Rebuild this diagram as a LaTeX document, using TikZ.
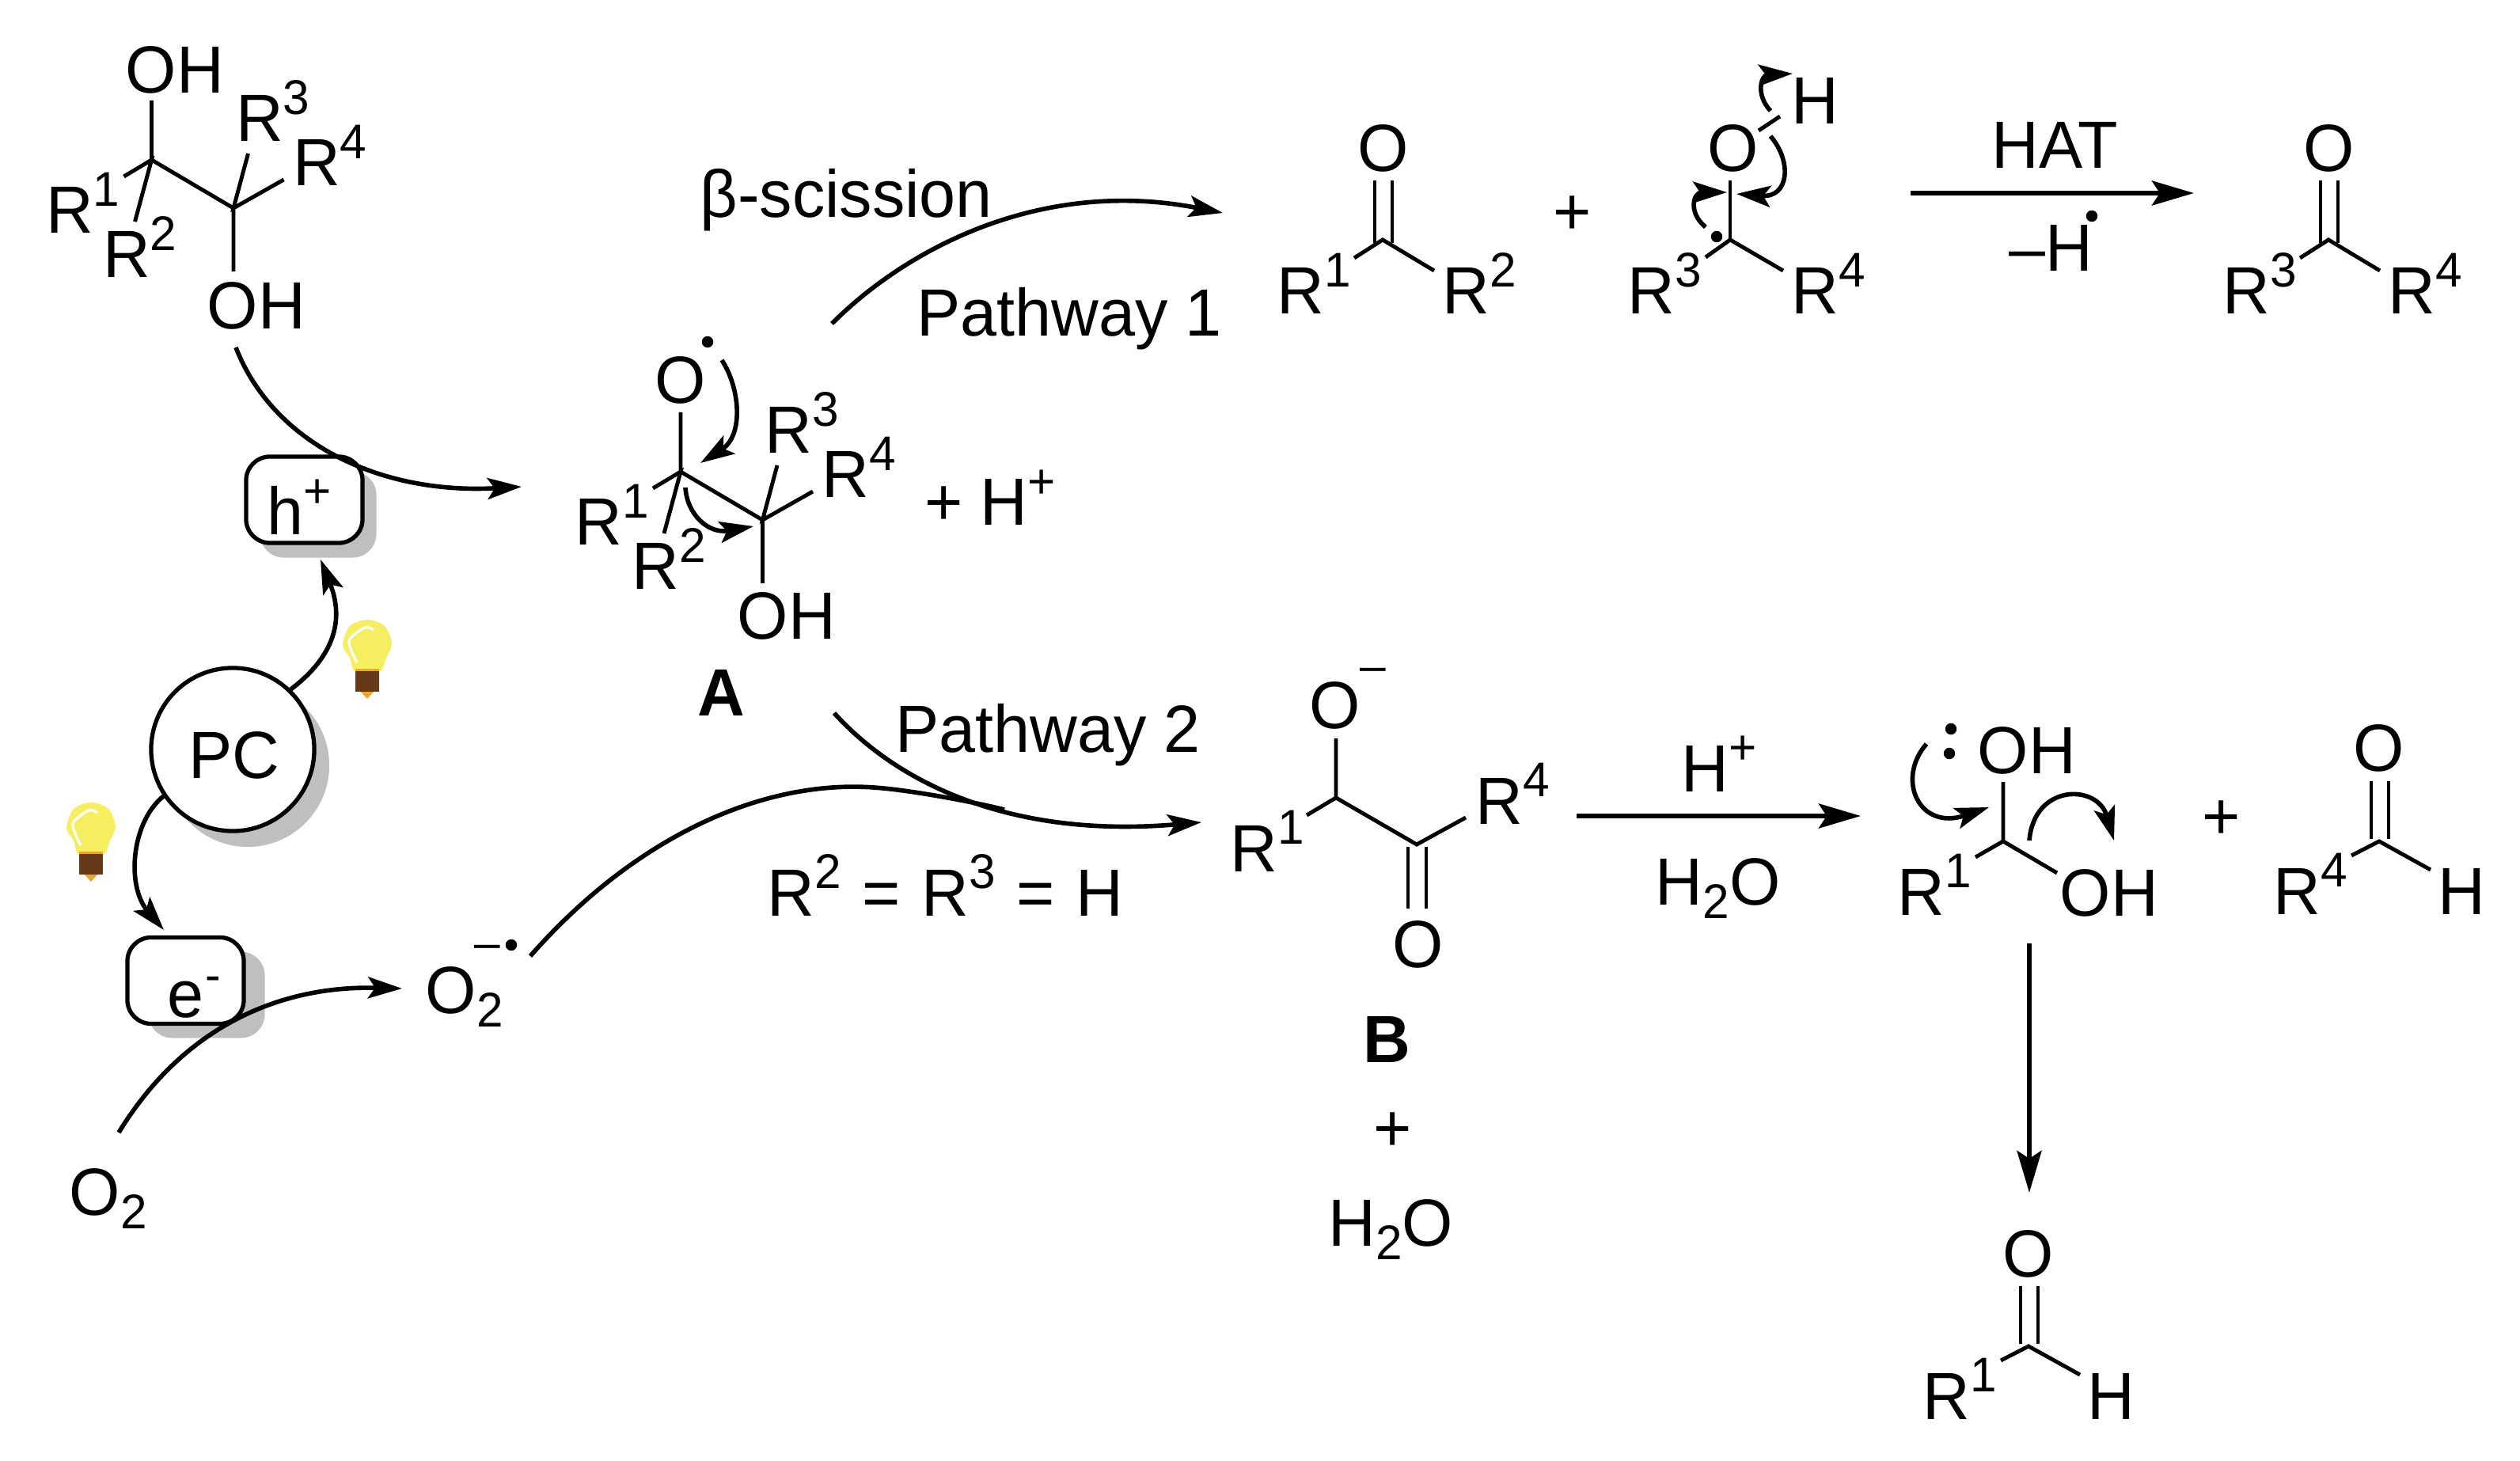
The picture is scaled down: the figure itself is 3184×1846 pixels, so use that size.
\documentclass[tikz,border=0pt]{standalone}
\usepackage{fontspec}
\setmainfont[FakeStretch=0.98]{Liberation Sans}
\usetikzlibrary{arrows.meta}
\usetikzlibrary{positioning}
\definecolor{shdgray}{HTML}{BFBFBF}
\definecolor{bulbyel}{HTML}{F5EE60}
\definecolor{bulbbrn}{HTML}{65391A}
\definecolor{bulborg}{HTML}{E5A830}
\newcommand{\sups}[1]{\raisebox{9.7pt}{\fontsize{17.5}{17.5}\selectfont #1}}
\newcommand{\subs}[1]{\raisebox{-5pt}{\fontsize{17.5}{17.5}\selectfont #1}}
\tikzstyle{txt}=[anchor=base west,inner sep=0pt,font=\fontsize{24}{28}\selectfont\spaceskip 6.2pt\relax]
\tikzstyle{sup}=[txt,font=\fontsize{17}{17}\selectfont]
\tikzstyle{pnt}=[draw,circle,fill,inner sep=0pt,minimum size=0.13cm]
\tikzstyle{bnd}=[line width=1.4pt]
\tikzstyle{arr}=[line width=1.6pt,-{Stealth[length=0.43cm,width=0.27cm,inset=0.09cm]}]
\tikzstyle{arrb}=[line width=1.7pt,-{Stealth[length=0.53cm,width=0.31cm,inset=0.10cm]}]
\tikzstyle{slab}=[draw,line width=1.5pt,rounded corners=0.3cm,fill=white,inner sep=0pt,minimum width=1.47cm,minimum height=1.09cm]
\tikzstyle{shdslab}=[slab,draw=none,fill=shdgray]
\tikzset{
	pics/vic/.style={code={
		\coordinate (ca) at (0,0);
		\coordinate (cb) at (103.5,61);
		\coordinate (top) at (0,-75);
		\coordinate (bot) at (103.5,141);
		\coordinate (ra) at (-35,21);
		\coordinate (rb) at (-21,78);
		\coordinate (rc) at (122,-8);
		\coordinate (rd) at (167,25);
		\draw[bnd] (top) -- (ca) -- (cb) -- (bot);
		\draw[bnd] (ra) -- (ca) -- (rb);
		\draw[bnd] (rc) -- (cb) -- (rd);
		\node[txt] at (-134,93)(r1){R\sups{1}};
		\node[txt] at (-62,149)(r2){R\sups{2}};
		\node[txt] at (106,-23)(r3){R\sups{3}};
		\node[txt] at (178,33)(r4){R\sups{4}};
	}},
	pics/carb/.style 2 args={code={
		\coordinate (c) at (0,0);
		\coordinate (ul) at (-10,-75);
		\coordinate (dl) at (-10,4);
		\coordinate (ur) at (12,-75);
		\coordinate (dr) at (12,4);
		\coordinate (ra) at (-36,23);
		\coordinate (rb) at (65,39);
		\draw[bnd] (ul) -- (dl);
		\draw[bnd] (ur) -- (dr);
		\draw[bnd] (ra) -- (c) -- (rb);
		\node[txt] at (-32,-86)(o){O};
		\node[txt] at (-134,94)(r1){R\sups{#1}};
		\node[txt] at (75,94)(r2){R\sups{#2}};
	}},
	pics/ald/.style={code={
		\coordinate (c) at (0,0);
		\coordinate (ul) at (-10,-76);
		\coordinate (dl) at (-10,-3);
		\coordinate (ur) at (12,-76);
		\coordinate (dr) at (12,-3);
		\coordinate (ra) at (-35,18);
		\coordinate (rb) at (65,36);
		\draw[bnd] (ul) -- (dl);
		\draw[bnd] (ur) -- (dr);
		\draw[bnd] (ra) -- (c) -- (rb);
		\node[txt] at (-33,-88)(o){O};
		\node[txt] at (-134,92)(r1){R\sups{#1}};
		\node[txt] at (74,92)(h){H};
	}},
	pics/bulb/.style={code={
		\fill[bulborg] (-11,88) -- (11,88) -- (0,100) -- cycle;
		\fill[bulbyel] plot[smooth cycle] coordinates {(0,0) (22,8) (31,30) (24,48) (15,66) (-15,66) (-22,48) (-31,32) (-22,8)};
		\draw[white,line width=0.9pt] plot[smooth] coordinates {(-13,54) (-23,27) (-3,10) (8,13)};
		\fill[bulborg] (-15,62) rectangle (15,66);
		\fill[bulbbrn] (-15,65) rectangle (15,91);
	}}
}

\begin{document}
\begin{tikzpicture}[x=0.01cm,y=-0.01cm]
	\useasboundingbox (0,0) rectangle (3184,1846);

	% starting diol and radical A
	\pic (diol) at (191.5,202) {vic};
	\node[txt] at (158,118)(dioloh){OH};
	\node[txt] at (261,416)(diolohb){OH};
	\pic (mola) at (860,596) {vic};
	\node[txt] at (827,510)(molao){O};
	\node[pnt] at (894,432)(molad){};
	\node[txt] at (931,808)(molaoh){OH};
	\node[txt] at (1168,664)(molah){+ H\sups{+}};
	\node[txt,font=\fontsize{24}{28}\selectfont\bfseries] at (881,905)(lbla){A};
	\coordinate (aotail) at (912,455);
	\coordinate (aotip) at (885,585);
	\coordinate (abtail) at (866,616);
	\coordinate (abtip) at (952,665);
	\draw[arr] (aotail) .. controls (935,490) and (940,550) .. (aotip);
	\draw[arr] (abtail) .. controls (868,650) and (895,675) .. (abtip);

	% photocatalyst cycle
	\node[shdslab] at (402,650)(hpshd){};
	\node[slab] at (384.5,631.5)(hp){};
	\node[txt] at (337,676)(hptxt){h\sups{+}};
	\node[shdslab] at (261,1257)(emshd){};
	\node[slab] at (234.5,1239)(em){};
	\node[txt] at (211,1285)(emtxt){e};
	\node[sup] at (259,1252)(emmin){-};
	\node[circle,fill=shdgray,inner sep=0pt,minimum size=2.06cm] at (313,967)(pcshd){};
	\node[circle,draw,fill=white,line width=1.5pt,inner sep=0pt,minimum size=2.06cm] at (294,947)(pc){};
	\node[txt] at (238,983)(pctxt){PC};
	\pic (bulba) at (464,783) {bulb};
	\pic (bulbb) at (115,1014) {bulb};
	\node[txt] at (87,1535)(ox){O\subs{2}};
	\node[txt] at (537,1280)(oxr){O\subs{2}};
	\node[sup] at (599,1211)(oxrmin){--};
	\node[pnt] at (646,1194)(oxrd){};

	\coordinate (dtail) at (298,439);
	\coordinate (dtip) at (659,615);
	\coordinate (hptip) at (405,707);
	\coordinate (emtip) at (207,1175);
	\coordinate (oxtail) at (150,1431);
	\coordinate (oxtip) at (508,1249);
	\draw[arr] (dtail) .. controls (345,560) and (480,625) .. (dtip);
	\draw[arr] (pc.46) .. controls (415,835) and (438,790) .. (hptip);
	\draw[arr] (pc.214) .. controls (165,1040) and (160,1120) .. (emtip);
	\draw[arr] (oxtail) .. controls (230,1300) and (350,1245) .. (oxtip);

	% pathway 1
	\node[txt] at (884,275)(bsc){β-scission};
	\node[txt] at (1158,425)(pw1){Pathway 1};
	\coordinate (pw1tail) at (1051,409);
	\coordinate (pw1tip) at (1545,269);
	\draw[arr] (pw1tail) .. controls (1150,310) and (1320,225) .. (pw1tip);
	\pic (keta) at (1747,303) {carb={1}{2}};
	\node[txt] at (1962,297)(plusa){+};

	\coordinate (rc) at (2186,303);
	\coordinate (rco) at (2186,228);
	\coordinate (rcl) at (2155,325);
	\coordinate (rcr) at (2253,342);
	\coordinate (roa) at (2222,165);
	\coordinate (rob) at (2249,147);
	\draw[bnd] (rco) -- (rc);
	\draw[bnd] (rcl) -- (rc) -- (rcr);
	\draw[bnd] (roa) -- (rob);
	\node[txt] at (2157,217)(ro){O};
	\node[txt] at (2263,157)(rh){H};
	\node[txt] at (2056,397)(rr3){R\sups{3}};
	\node[txt] at (2263,397)(rr4){R\sups{4}};
	\node[pnt] at (2169,299)(rd){};
	\coordinate (roarr) at (2237,172);
	\coordinate (roatip) at (2194,245);
	\coordinate (rhar) at (2237,140);
	\coordinate (rhatip) at (2265,93);
	\coordinate (rcar) at (2155,287);
	\coordinate (rcatip) at (2182,243);
	\draw[arr] (roarr) .. controls (2265,205) and (2260,250) .. (roatip);
	\draw[arr] (rhar) .. controls (2218,120) and (2225,95) .. (rhatip);
	\draw[arr] (rcar) .. controls (2132,268) and (2140,243) .. (rcatip);

	\coordinate (hata) at (2414,244);
	\coordinate (hatb) at (2772,244);
	\draw[arrb] (hata) -- (hatb);
	\node[txt] at (2516,213)(hat){HAT};
	\node[txt] at (2538,343)(hatm){--H};
	\node[pnt] at (2643,273)(hatd){};
	\pic (ketb) at (2942,303) {carb={3}{4}};

	% pathway 2
	\node[txt] at (1131,950)(pw2){Pathway 2};
	\node[txt] at (969,1157)(cond){\spaceskip 7.6pt\relax R\sups{2} = R\sups{3} = H};
	\coordinate (pw2tail) at (1054,901);
	\coordinate (pw2tip) at (1518,1039);
	\coordinate (oxrtail) at (670,1208);
	\coordinate (oxrtop) at (1104,995);
	\coordinate (oxrjoin) at (1269,1023);
	\draw[arr] (pw2tail) .. controls (1130,985) and (1270,1060) .. (pw2tip);
	\draw[line width=1.6pt] (oxrtail) .. controls (800,1060) and (960,985) .. (oxrtop) .. controls (1149,998) and (1229,1013) .. (oxrjoin);

	\coordinate (bca) at (1688,1008);
	\coordinate (bcb) at (1790,1067);
	\coordinate (bo) at (1688,933);
	\coordinate (br1) at (1651,1030);
	\coordinate (br4) at (1852,1033);
	\coordinate (bdla) at (1779,1070);
	\coordinate (bdlb) at (1779,1148);
	\coordinate (bdra) at (1802,1070);
	\coordinate (bdrb) at (1802,1148);
	\draw[bnd] (bo) -- (bca) -- (bcb) -- (br4);
	\draw[bnd] (br1) -- (bca);
	\draw[bnd] (bdla) -- (bdlb);
	\draw[bnd] (bdra) -- (bdrb);
	\node[txt] at (1654,921)(bot){O};
	\node[sup] at (1718,862)(botm){--};
	\node[txt] at (1554,1101)(brr1){R\sups{1}};
	\node[txt] at (1864,1041)(brr4){R\sups{4}};
	\node[txt] at (1759,1222)(bob){O};
	\node[txt,font=\fontsize{24}{28}\selectfont\bfseries] at (1722,1342)(lblb){B};
	\node[txt] at (1735,1454)(plusb){+};
	\node[txt] at (1678,1574)(wata){H\subs{2}O};

	\coordinate (hpa) at (1992,1031);
	\coordinate (hpb) at (2351,1031);
	\draw[arrb] (hpa) -- (hpb);
	\node[txt] at (2124,1000)(hpls){H\sups{+}};
	\node[txt] at (2091,1143)(watb){H\subs{2}O};

	% hemiacetal and aldehydes
	\coordinate (hc) at (2531,1063);
	\coordinate (hct) at (2531,988);
	\coordinate (hcl) at (2496,1083);
	\coordinate (hcr) at (2599,1103);
	\draw[bnd] (hct) -- (hc) -- (hcr);
	\draw[bnd] (hcl) -- (hc);
	\node[txt] at (2498,977)(hoht){OH};
	\node[txt] at (2602,1157)(hohb){OH};
	\node[txt] at (2397,1156)(hr1){R\sups{1}};
	\node[pnt] at (2465,921)(hda){};
	\node[pnt] at (2463,952)(hdb){};
	\coordinate (hlt) at (2434,940);
	\coordinate (hlh) at (2513,1020);
	\coordinate (hrt) at (2564,1062);
	\coordinate (hrh) at (2671,1062);
	\draw[arr] (hlt) .. controls (2395,985) and (2425,1050) .. (hlh);
	\draw[arr] (hrt) .. controls (2570,990) and (2650,990) .. (hrh);
	\node[txt] at (2782,1060)(plusc){+};
	\pic (alda) at (3006,1063) {ald={4}};

	\coordinate (dna) at (2564,1192);
	\coordinate (dnb) at (2564,1507);
	\draw[arrb] (dna) -- (dnb);
	\pic (aldb) at (2563,1701) {ald={1}};
\end{tikzpicture}
\end{document}
